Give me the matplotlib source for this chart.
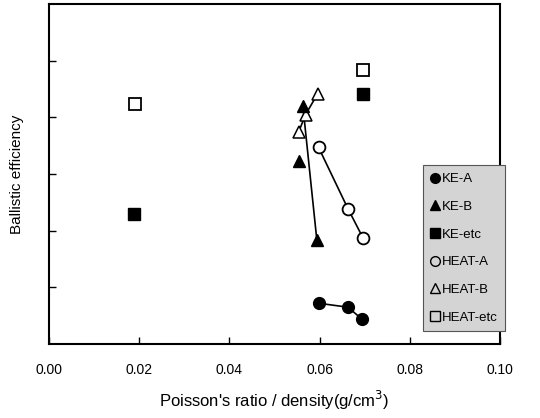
import matplotlib
matplotlib.use('Agg')
import matplotlib.pyplot as plt
from matplotlib.lines import Line2D

plt.rcParams['font.family'] = ['Liberation Sans', 'DejaVu Sans']

# data (y axis has no labels, units = tick steps)
ke_a_x = [0.0598, 0.0663, 0.0694]
ke_a_y = [0.72, 0.65, 0.44]
ke_b_x = [0.0563, 0.0554, 0.0594]
ke_b_y = [4.21, 3.23, 1.84]
ke_etc_x = [0.0188, 0.0696]
ke_etc_y = [2.30, 4.42]
heat_a_x = [0.0598, 0.0663, 0.0696]
heat_a_y = [3.47, 2.39, 1.88]
heat_b_x = [0.0596, 0.0569, 0.0554]
heat_b_y = [4.42, 4.05, 3.75]
heat_etc_x = [0.0190, 0.0696]
heat_etc_y = [4.23, 4.84]

fig = plt.figure(figsize=(5.4, 4.18), dpi=100)
ax = fig.add_axes([0.0907, 0.177, 0.835, 0.813])

ms = 8.5
# connecting lines
ax.plot(ke_a_x, ke_a_y, color='black', lw=1.2)
ax.plot([ke_b_x[0], ke_b_x[2]], [ke_b_y[0], ke_b_y[2]], color='black', lw=1.2)
ax.plot(heat_a_x, heat_a_y, color='black', lw=1.2)
ax.plot(heat_b_x, heat_b_y, color='black', lw=1.2)

ax.plot(heat_a_x, heat_a_y, 'o', ls='none', mfc='white', mec='black', mew=1.3, ms=ms)
ax.plot(heat_b_x, heat_b_y, '^', ls='none', mfc='white', mec='black', mew=1.1, ms=ms)
ax.plot(heat_etc_x, heat_etc_y, 's', ls='none', mfc='white', mec='black', mew=1.3, ms=ms)
ax.plot(ke_a_x, ke_a_y, 'o', ls='none', color='black', ms=ms)
ax.plot(ke_b_x, ke_b_y, '^', ls='none', color='black', ms=ms)
ax.plot(ke_etc_x, ke_etc_y, 's', ls='none', color='black', ms=ms)

ax.set_xlim(0, 0.10)
ax.set_ylim(0, 6)
ax.set_xticks([0.00, 0.02, 0.04, 0.06, 0.08, 0.10])
ax.set_xticklabels(['0.00', '0.02', '0.04', '0.06', '0.08', '0.10'])
ax.set_yticks([1, 2, 3, 4, 5])
ax.set_yticklabels([])
ax.tick_params(direction='in', length=5, width=1, labelsize=10, pad=14)
for s in ax.spines.values():
    s.set_linewidth(1.5)

ax.set_xlabel("Poisson's ratio / density(g/cm$^3$)", fontsize=12, labelpad=8)
ax.set_ylabel('Ballistic efficiency', fontsize=11)
ax.yaxis.set_label_coords(-25 / 451, 0.5)

handles = [
    Line2D([], [], marker='o', ls='none', color='black', ms=7),
    Line2D([], [], marker='^', ls='none', color='black', ms=7),
    Line2D([], [], marker='s', ls='none', color='black', ms=7),
    Line2D([], [], marker='o', ls='none', mfc='none', mec='black', ms=7),
    Line2D([], [], marker='^', ls='none', mfc='none', mec='black', ms=7),
    Line2D([], [], marker='s', ls='none', mfc='none', mec='black', ms=7),
]
labels = ['KE-A', 'KE-B', 'KE-etc', 'HEAT-A', 'HEAT-B', 'HEAT-etc']
leg = ax.legend(handles, labels, loc='upper left', bbox_to_anchor=(423 / 540, 1 - 165 / 418),
                bbox_transform=fig.transFigure, fontsize=9.5, handlelength=0.6,
                handletextpad=0.2, labelspacing=1.17, borderpad=0.6, fancybox=False,
                framealpha=1, facecolor='#d4d4d4', edgecolor='#555555', borderaxespad=0)
leg.get_frame().set_linewidth(0.8)

fig.savefig('out.png', dpi=100)
